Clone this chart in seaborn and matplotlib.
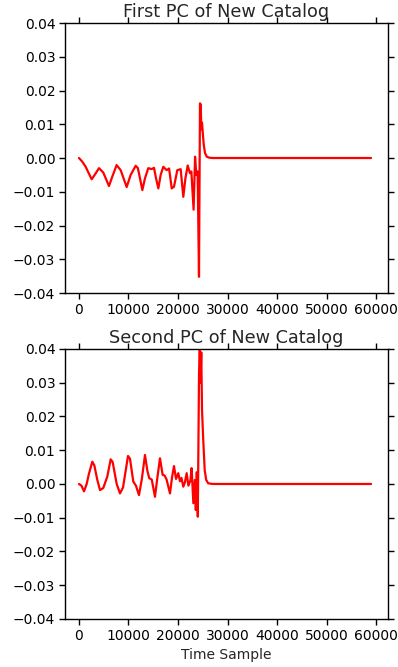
import matplotlib
matplotlib.use("Agg")
import matplotlib.pyplot as plt
import seaborn as sns
import pandas as pd

# ---- data ----
titles = ["First PC of New Catalog", "Second PC of New Catalog"]
x_label = "Time Sample"
y_ticks = [-0.04, -0.03, -0.02, -0.01, 0.00, 0.01, 0.02, 0.03, 0.04]
x_ticks = [0, 10000, 20000, 30000, 40000, 50000, 60000]

pc1_x = [0, 670, 1350, 1800, 2560, 3170, 4040, 4900, 6060, 6730, 7600, 8420,
         9630, 10440, 11450, 11900, 12800, 13330, 14000, 14680, 15150, 15560,
         16030, 16500, 17030, 17700, 18200, 18730, 19190, 19860, 20540, 21070,
         21500, 21960, 22420, 22700, 23150, 23450, 23700, 23970, 24240, 24440,
         24600, 24700, 24850, 25000, 25200, 25450, 25800, 26300, 27000, 59000]
pc1_y = [0.0, -0.0011, -0.0026, -0.0040, -0.0063, -0.0050, -0.0030, -0.0043,
         -0.0083, -0.0055, -0.0021, -0.0036, -0.0086, -0.0050, -0.0023, -0.0030,
         -0.0095, -0.0060, -0.0030, -0.0033, -0.0029, -0.0060, -0.0090, -0.0050,
         -0.0026, -0.0036, -0.0031, -0.0090, -0.0085, -0.0036, -0.0033, -0.0115,
         -0.0060, -0.0022, -0.0045, -0.0040, -0.0153, 0.0004, -0.0050, -0.0040,
         -0.0352, 0.0162, 0.0158, 0.0085, 0.0105, 0.0075, 0.0040, 0.0015,
         0.0004, 0.0001, 0.0, 0.0]

pc2_x = [0, 500, 1010, 1550, 2020, 2690, 3100, 3700, 4240, 4900, 5720, 6400,
         6800, 7620, 8280, 8900, 9900, 10300, 10970, 11500, 12120, 12700, 13330,
         13800, 14200, 14700, 15350, 15800, 16360, 16900, 17300, 17700, 18380,
         18800, 19190, 19600, 20060, 20400, 20700, 21070, 21400, 21750, 22100,
         22500, 22750, 23100, 23400, 23600, 23800, 24000, 24250, 24400, 24550,
         24700, 24850, 25100, 25400, 25700, 26100, 27000, 59000]
pc2_y = [0.0, -0.0005, -0.0022, 0.0, 0.0031, 0.0066, 0.0055, 0.0012, -0.0018,
         -0.0012, 0.0022, 0.0073, 0.0065, 0.0, -0.0028, -0.0010, 0.0083, 0.0075,
         0.0007, -0.0005, -0.0033, 0.0015, 0.0086, 0.0040, 0.0017, 0.0013,
         -0.0038, 0.0015, 0.0076, 0.0027, 0.0025, 0.0013, -0.0028, 0.0020,
         0.0053, 0.0015, 0.0032, 0.0008, 0.0018, -0.0008, 0.0005, 0.0032,
         -0.0005, 0.0010, 0.0047, -0.0057, 0.0012, -0.0077, 0.0035, -0.0097,
         0.0330, 0.0400, 0.0300, 0.0390, 0.0220, 0.0130, 0.0040, 0.0012,
         0.0002, 0.0, 0.0]

series = [(pc1_x, pc1_y), (pc2_x, pc2_y)]

sns.set_style("white")
plt.rcParams["font.family"] = ["DejaVu Sans"]

fig = plt.figure(figsize=(3.98, 6.67), dpi=100)
positions = [[0.1633, 0.5607, 0.8116, 0.4048],
             [0.1633, 0.0720, 0.8116, 0.4048]]

for i, ((xs, ys), title) in enumerate(zip(series, titles)):
    ax = fig.add_axes(positions[i])
    df = pd.DataFrame({"x": xs, "y": ys})
    sns.lineplot(data=df, x="x", y="y", color="red", linewidth=1.6,
                 estimator=None, ax=ax)
    ax.set_xlim(-2828, 62424)
    ax.set_ylim(-0.04, 0.04)
    ax.set_yticks(y_ticks)
    ax.set_yticklabels([f"{v:.2f}".replace("-", "\u2212") for v in y_ticks])
    ax.set_xticks(x_ticks)
    ax.set_xticklabels([str(v) for v in x_ticks])
    ax.tick_params(axis="both", which="both", direction="out", length=4,
                   width=1, color="black", labelsize=10, labelcolor="black",
                   top=True, right=True, bottom=True, left=True, pad=3)
    for sp in ax.spines.values():
        sp.set_visible(True)
        sp.set_color("black")
        sp.set_linewidth(1)
    ax.set_title(title, fontsize=12.7, pad=4)
    ax.set_ylabel("")
    if i == 1:
        ax.set_xlabel(x_label, fontsize=10, labelpad=4)
    else:
        ax.set_xlabel("")

fig.savefig("out.png", dpi=100)
